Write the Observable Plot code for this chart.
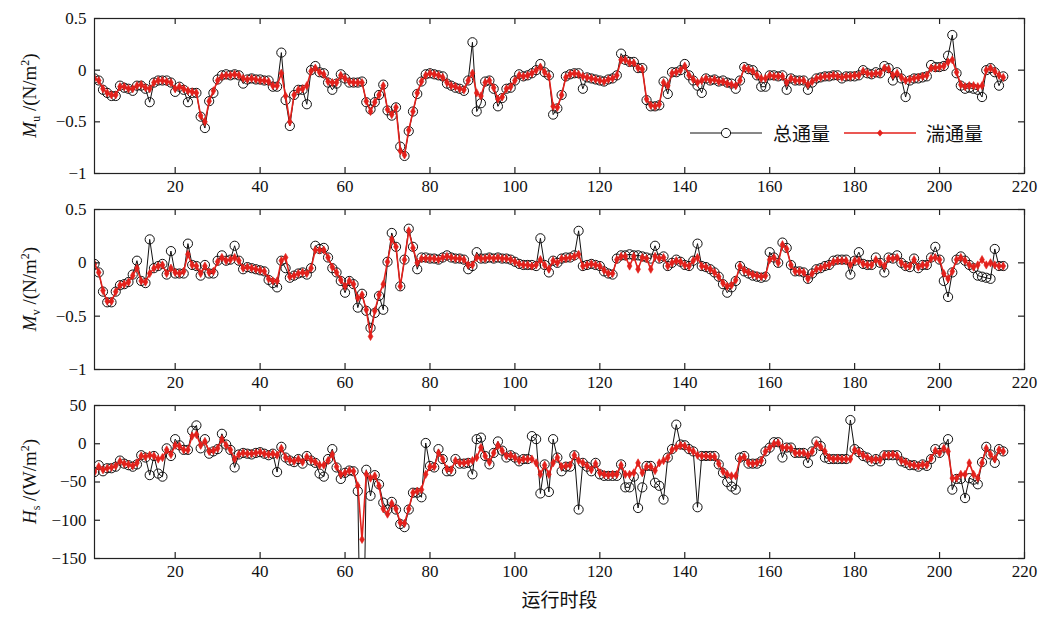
<!DOCTYPE html>
<html><head><meta charset="utf-8">
<script src="https://cdn.jsdelivr.net/npm/d3@7"></script>
<script src="https://cdn.jsdelivr.net/npm/@observablehq/plot@0.6"></script>
<style>
body{margin:0;background:#fff;}
#chart{position:relative;width:1044px;height:619px;overflow:hidden;background:#fff;}
.panel{position:absolute;left:0;}
.legend{position:absolute;left:690px;top:119px;display:flex;align-items:center;font-family:"Noto Sans CJK SC",sans-serif;font-size:19px;color:#111;white-space:nowrap;}
.legend svg{display:block;}
</style></head><body><div id="chart"></div>
<script>
// ---- data: run period index 1..215 ----
const muTotal=[-0.08,-0.10,-0.19,-0.22,-0.25,-0.25,-0.15,-0.17,-0.18,-0.20,-0.15,-0.15,-0.18,-0.31,-0.12,-0.10,-0.10,-0.10,-0.12,-0.21,-0.16,-0.19,-0.31,-0.22,-0.22,-0.45,-0.56,-0.30,-0.22,-0.09,-0.05,-0.04,-0.05,-0.04,-0.05,-0.13,-0.09,-0.08,-0.09,-0.09,-0.10,-0.10,-0.16,-0.16,0.17,-0.29,-0.54,-0.24,-0.19,-0.19,-0.33,0.00,0.04,-0.02,-0.03,-0.12,-0.19,-0.13,-0.04,-0.08,-0.12,-0.12,-0.12,-0.11,-0.31,-0.38,-0.31,-0.24,-0.14,-0.39,-0.44,-0.36,-0.74,-0.83,-0.59,-0.40,-0.23,-0.11,-0.04,-0.03,-0.04,-0.05,-0.06,-0.13,-0.15,-0.17,-0.18,-0.20,-0.10,0.27,-0.40,-0.32,-0.11,-0.10,-0.18,-0.35,-0.27,-0.18,-0.17,-0.10,-0.04,-0.06,-0.05,-0.03,0.00,0.06,-0.02,-0.05,-0.43,-0.37,-0.24,-0.06,-0.04,-0.03,-0.03,-0.18,-0.07,-0.08,-0.09,-0.10,-0.11,-0.09,-0.08,-0.05,0.16,0.10,0.08,0.08,0.02,0.02,-0.29,-0.35,-0.35,-0.34,-0.11,-0.23,-0.02,-0.02,0.00,0.06,-0.05,-0.10,-0.15,-0.22,-0.08,-0.10,-0.09,-0.11,-0.10,-0.12,-0.13,-0.18,-0.10,0.03,0.01,0.00,-0.05,-0.16,-0.16,-0.05,-0.05,-0.06,-0.05,-0.19,-0.08,-0.10,-0.10,-0.10,-0.19,-0.12,-0.08,-0.07,-0.06,-0.06,-0.05,-0.05,-0.08,-0.06,-0.06,-0.06,-0.05,0.00,-0.03,-0.04,-0.02,-0.03,0.04,0.02,-0.10,-0.02,-0.08,-0.26,-0.10,-0.08,-0.08,-0.07,-0.06,0.05,0.03,0.03,0.04,0.14,0.34,-0.03,-0.15,-0.18,-0.17,-0.18,-0.19,-0.26,0.00,0.02,-0.02,-0.15,-0.06];
const muTurb=[-0.08,-0.10,-0.18,-0.22,-0.24,-0.24,-0.16,-0.16,-0.18,-0.18,-0.15,-0.14,-0.17,-0.18,-0.12,-0.10,-0.10,-0.11,-0.12,-0.18,-0.16,-0.18,-0.20,-0.21,-0.22,-0.44,-0.50,-0.30,-0.20,-0.10,-0.06,-0.05,-0.05,-0.04,-0.05,-0.08,-0.09,-0.08,-0.09,-0.10,-0.10,-0.11,-0.15,-0.15,-0.03,-0.25,-0.50,-0.24,-0.19,-0.18,-0.15,-0.01,0.02,-0.02,-0.04,-0.11,-0.12,-0.12,-0.05,-0.08,-0.11,-0.12,-0.12,-0.12,-0.30,-0.40,-0.31,-0.24,-0.15,-0.38,-0.43,-0.36,-0.78,-0.82,-0.58,-0.40,-0.22,-0.11,-0.05,-0.03,-0.04,-0.05,-0.07,-0.12,-0.15,-0.16,-0.18,-0.19,-0.10,-0.03,-0.22,-0.25,-0.12,-0.10,-0.17,-0.28,-0.26,-0.18,-0.16,-0.10,-0.05,-0.06,-0.05,-0.03,0.00,0.03,-0.02,-0.06,-0.35,-0.36,-0.24,-0.07,-0.04,-0.03,-0.04,-0.06,-0.07,-0.08,-0.09,-0.10,-0.11,-0.09,-0.08,-0.05,0.10,0.10,0.07,0.07,0.02,0.01,-0.28,-0.34,-0.35,-0.33,-0.12,-0.15,-0.03,-0.02,0.00,0.04,-0.05,-0.09,-0.12,-0.10,-0.08,-0.10,-0.09,-0.11,-0.11,-0.13,-0.14,-0.15,-0.10,0.02,0.01,-0.01,-0.05,-0.08,-0.08,-0.05,-0.06,-0.06,-0.06,-0.12,-0.08,-0.10,-0.10,-0.10,-0.14,-0.11,-0.08,-0.07,-0.06,-0.06,-0.05,-0.06,-0.07,-0.06,-0.06,-0.05,-0.05,-0.01,-0.03,-0.04,-0.03,-0.03,0.02,0.01,-0.05,-0.03,-0.07,-0.10,-0.09,-0.08,-0.07,-0.06,-0.05,0.02,0.02,0.03,0.04,0.08,0.10,-0.02,-0.14,-0.16,-0.15,-0.15,-0.16,-0.15,0.00,0.02,-0.01,-0.05,-0.07];
const mvTotal=[-0.01,-0.09,-0.27,-0.37,-0.37,-0.27,-0.21,-0.20,-0.18,-0.11,0.02,-0.17,-0.19,0.22,-0.05,-0.03,-0.01,-0.11,0.11,-0.10,-0.10,-0.10,0.18,-0.02,-0.03,-0.12,-0.02,-0.10,-0.10,0.02,0.07,0.02,0.03,0.16,0.02,-0.06,-0.04,-0.05,-0.06,-0.07,-0.08,-0.16,-0.19,-0.23,0.02,-0.05,-0.14,-0.12,-0.10,-0.09,-0.11,-0.05,0.16,0.13,0.14,0.05,-0.05,-0.09,-0.17,-0.28,-0.17,-0.20,-0.42,-0.29,-0.45,-0.61,-0.47,-0.31,-0.44,0.01,0.28,0.15,-0.22,0.03,0.32,0.15,-0.06,0.05,0.05,0.04,0.04,0.03,0.05,0.07,0.05,0.04,0.04,0.03,-0.06,-0.03,0.10,0.04,0.04,0.05,0.04,0.05,0.04,0.04,0.03,0.01,-0.01,-0.02,-0.02,-0.02,-0.03,0.23,-0.02,-0.09,0.02,0.00,0.04,0.05,0.05,0.07,0.30,-0.03,-0.02,-0.01,-0.02,-0.03,-0.08,-0.10,-0.11,0.04,0.07,0.07,0.08,0.07,0.07,0.06,0.05,0.04,0.16,0.04,0.06,-0.03,0.00,0.03,0.01,-0.02,-0.03,0.02,0.18,-0.03,-0.04,-0.06,-0.09,-0.13,-0.20,-0.28,-0.23,-0.17,-0.03,-0.08,-0.10,-0.12,-0.13,-0.14,-0.13,0.10,0.05,0.00,0.19,0.14,-0.02,-0.08,-0.08,-0.09,-0.15,-0.10,-0.06,-0.05,-0.03,-0.02,0.02,0.03,0.03,0.03,-0.11,0.02,0.10,-0.01,-0.02,-0.02,0.05,0.00,-0.09,0.05,0.04,0.07,0.00,-0.03,-0.04,0.04,-0.05,-0.02,-0.02,0.05,0.15,0.03,-0.17,-0.32,-0.09,0.03,0.06,0.02,-0.02,-0.05,-0.12,-0.13,-0.14,-0.15,0.13,-0.03,-0.03];
const mvTurb=[-0.01,-0.09,-0.26,-0.36,-0.36,-0.27,-0.21,-0.20,-0.18,-0.12,-0.05,-0.17,-0.18,-0.10,-0.05,-0.03,-0.02,-0.10,-0.05,-0.09,-0.10,-0.08,0.08,-0.02,-0.03,-0.10,-0.03,-0.09,-0.08,0.01,0.05,0.02,0.03,0.05,0.02,-0.05,-0.04,-0.05,-0.06,-0.07,-0.08,-0.15,-0.17,-0.17,0.02,0.05,-0.13,-0.12,-0.10,-0.09,-0.10,-0.05,0.12,0.12,0.12,0.05,-0.04,-0.09,-0.16,-0.22,-0.17,-0.20,-0.33,-0.30,-0.44,-0.69,-0.45,-0.30,-0.20,0.01,0.22,0.15,-0.22,0.03,0.30,0.14,0.00,0.04,0.04,0.04,0.04,0.03,0.05,0.06,0.05,0.04,0.04,0.03,-0.02,-0.02,0.05,0.04,0.04,0.05,0.04,0.05,0.04,0.04,0.03,0.01,-0.01,-0.02,-0.02,-0.03,-0.02,0.03,-0.02,-0.06,0.02,0.00,0.04,0.04,0.05,0.06,0.08,-0.03,-0.02,-0.01,-0.02,-0.03,-0.07,-0.10,-0.10,0.03,0.06,0.06,-0.03,0.06,-0.06,0.05,0.04,-0.06,0.06,0.04,0.05,-0.03,0.00,0.02,0.01,-0.02,-0.03,0.02,0.05,-0.03,-0.04,-0.06,-0.09,-0.13,-0.19,-0.22,-0.21,-0.16,-0.03,-0.07,-0.09,-0.11,-0.12,-0.13,-0.12,0.03,0.05,0.00,0.17,0.13,-0.02,-0.08,-0.08,-0.09,-0.15,-0.10,-0.06,-0.05,-0.03,-0.02,0.01,0.02,0.02,0.02,-0.02,0.02,0.02,-0.01,-0.02,-0.02,0.03,0.00,-0.03,0.04,0.04,0.05,0.00,-0.03,-0.03,0.03,-0.04,-0.02,-0.02,0.04,0.05,0.03,-0.10,-0.15,-0.08,0.03,0.05,0.02,-0.02,-0.04,-0.02,0.03,-0.02,0.00,-0.02,-0.03,-0.03];
const hsTotal=[-37,-28,-36,-32,-32,-30,-22,-26,-28,-30,-27,-15,-18,-41,-16,-39,-43,-6,-16,6,-2,-8,-8,17,24,-6,6,-13,-10,-7,13,-1,-8,-31,-14,-12,-13,-14,-12,-11,-13,-15,-13,-37,-4,-18,-22,-24,-20,-26,-16,-22,-25,-39,-43,-20,-7,-31,-46,-38,-35,-36,-62,-400,-34,-68,-41,-53,-77,-86,-76,-86,-105,-109,-86,-64,-64,-70,1,-29,-31,-7,-20,-36,-36,-20,-26,-26,-25,-40,6,8,-16,-27,-12,3,-9,-18,-15,-18,-23,-20,-20,10,6,-65,-27,-63,6,-18,-36,-30,-30,-15,-86,-25,-30,-36,-25,-40,-42,-42,-42,-42,-27,-57,-57,-43,-84,-57,-29,-29,-51,-55,-73,-18,-7,25,-1,-2,-7,-10,-83,-16,-16,-16,-16,-27,-38,-50,-56,-60,-18,-16,-26,-26,-26,-23,-10,-5,2,2,-18,-5,-5,-12,-12,-12,-25,-10,3,-3,-18,-20,-20,-20,-20,-20,31,-7,-11,-16,-18,-23,-20,-23,-15,-15,-15,-15,-23,-25,-28,-28,-30,-27,-29,-20,-7,-12,-5,6,-60,-46,-46,-71,-45,-47,-53,-24,-4,-14,-25,-7,-10];
const hsTurb=[-37,-30,-34,-32,-31,-29,-23,-26,-27,-29,-25,-16,-17,-15,-16,-20,-18,-8,-14,-2,-3,-8,-8,10,12,-2,3,-10,-9,-6,6,-2,-8,-20,-14,-12,-13,-13,-12,-11,-13,-14,-13,-15,-6,-18,-21,-23,-20,-24,-17,-21,-24,-28,-28,-22,-14,-30,-40,-38,-35,-36,-55,-125,-40,-45,-42,-55,-85,-92,-78,-85,-103,-104,-85,-64,-62,-60,-40,-30,-30,-12,-20,-33,-34,-22,-25,-25,-24,-22,-18,-5,-16,-24,-12,-2,-9,-16,-15,-18,-22,-20,-20,-20,-25,-40,-28,-40,-25,-18,-30,-29,-28,-15,-22,-25,-29,-34,-26,-38,-40,-41,-40,-40,-28,-40,-40,-38,-25,-38,-30,-30,-35,-25,-22,-18,-8,-5,-2,-3,-7,-10,-15,-16,-16,-17,-17,-26,-36,-40,-42,-42,-20,-17,-25,-26,-25,-22,-10,-5,0,1,-5,-5,-6,-12,-12,-12,-15,-10,0,-4,-10,-18,-20,-19,-20,-20,-20,-8,-11,-15,-18,-21,-20,-21,-15,-15,-14,-16,-22,-24,-27,-28,-29,-27,-28,-19,-9,-12,-6,-10,-45,-45,-40,-40,-25,-40,-45,-25,-6,-14,-20,-8,-10];
const xTicks=[20,40,60,80,100,120,140,160,180,200,220];
const seriesNames=["总通量","湍通量"];

const W=1044, ML=94, MR=20;
const panels=[
  {tot:muTotal, turb:muTurb, yDomain:[-1,0.5], yTicks:[0.5,0,-0.5,-1], top:0, height:195, mt:18, mb:22, sym:"u", unit:"N/m"},
  {tot:mvTotal, turb:mvTurb, yDomain:[-1,0.5], yTicks:[0.5,0,-0.5,-1], top:195, height:195, mt:14, mb:21, sym:"v", unit:"N/m"},
  {tot:hsTotal, turb:hsTurb, yDomain:[-150,50], yTicks:[50,0,-50,-100,-150], top:390, height:229, mt:15, mb:61, sym:"s", unit:"W/m", xlabel:"运行时段"}
];
const fmt=d=>String(d).replace("-","\u2212");
const RED="#e3201b";
const chart=document.getElementById("chart");

panels.forEach(p=>{
  const data=p.tot.map((v,i)=>({t:i+1,tot:v,turb:p.turb[i]}));
  const plotH=p.height-p.mt-p.mb, plotW=W-ML-MR;
  const marks=[
    Plot.line(data,{x:"t",y:"tot",stroke:"#111",strokeWidth:1,clip:true}),
    Plot.dot(data,{x:"t",y:"tot",r:4.6,stroke:"#111",fill:"none",strokeWidth:1,clip:true}),
    Plot.line(data,{x:"t",y:"turb",stroke:RED,strokeWidth:1.6,clip:true}),
    Plot.dot(data,{x:"t",y:"turb",symbol:"diamond",r:2.5,fill:RED,stroke:RED,strokeWidth:0.6,clip:true}),
    Plot.tickX(xTicks,{x:d=>d,insetTop:plotH-6,stroke:"#222",strokeWidth:1.2}),
    Plot.tickX(xTicks,{x:d=>d,insetBottom:plotH-6,stroke:"#222",strokeWidth:1.2}),
    Plot.tickY(p.yTicks,{y:d=>d,insetRight:plotW-6,stroke:"#222",strokeWidth:1.2}),
    Plot.tickY(p.yTicks,{y:d=>d,insetLeft:plotW-6,stroke:"#222",strokeWidth:1.2}),
    Plot.axisX({ticks:xTicks,anchor:"bottom",tickSize:0,tickPadding:6,label:null}),
    Plot.axisY({ticks:p.yTicks,anchor:"left",tickSize:0,tickPadding:8,tickFormat:fmt,label:null}),
    Plot.frame({stroke:"#222",strokeWidth:1.2})
  ];
  if(p.xlabel) marks.push(Plot.text([p.xlabel],{frameAnchor:"bottom",dy:48,fontSize:19,fontFamily:"'Noto Sans CJK SC',sans-serif",fill:"#111"}));
  const svg=Plot.plot({
    width:W,height:p.height,marginLeft:ML,marginRight:MR,marginTop:p.mt,marginBottom:p.mb,
    x:{domain:[1,220]},
    y:{domain:p.yDomain},
    style:{fontFamily:"'Liberation Serif','Noto Sans CJK SC',serif",fontSize:"17px",color:"#111",background:"transparent",overflow:"visible"},
    marks
  });
  svg.classList.add("panel");
  svg.style.top=p.top+"px";
  chart.appendChild(svg);
  // y-axis label with italic symbol, subscript and superscript
  const cy=p.mt+plotH/2;
  const t=d3.select(svg).append("text")
    .attr("transform",`translate(36,${cy}) rotate(-90)`)
    .attr("text-anchor","middle")
    .attr("font-family","'Liberation Serif',serif")
    .attr("font-size",19).attr("fill","#111");
  t.append("tspan").attr("font-style","italic").text(p.sym==="s"?"H":"M");
  t.append("tspan").attr("font-size",12).attr("dy",4).text(p.sym);
  t.append("tspan").attr("dy",-4).text(" /("+p.unit);
  t.append("tspan").attr("font-size",12).attr("dy",-7).text("2");
  t.append("tspan").attr("dy",7).text(")");
});

// legend (inside top panel)
const lg=document.createElement("div");
lg.className="legend";
lg.innerHTML=`<svg width="72" height="24"><line x1="0" y1="12" x2="72" y2="12" stroke="#111" stroke-width="1"/><circle cx="36" cy="12" r="4.6" fill="#fff" stroke="#111"/></svg><span style="margin:0 14px 0 11px">${seriesNames[0]}</span><svg width="72" height="24"><line x1="0" y1="12" x2="72" y2="12" stroke="${RED}" stroke-width="1.6"/><path d="M36,8.5L39,12L36,15.5L33,12Z" fill="${RED}"/></svg><span style="margin-left:10px">${seriesNames[1]}</span>`;
chart.appendChild(lg);
</script>
</body></html>
